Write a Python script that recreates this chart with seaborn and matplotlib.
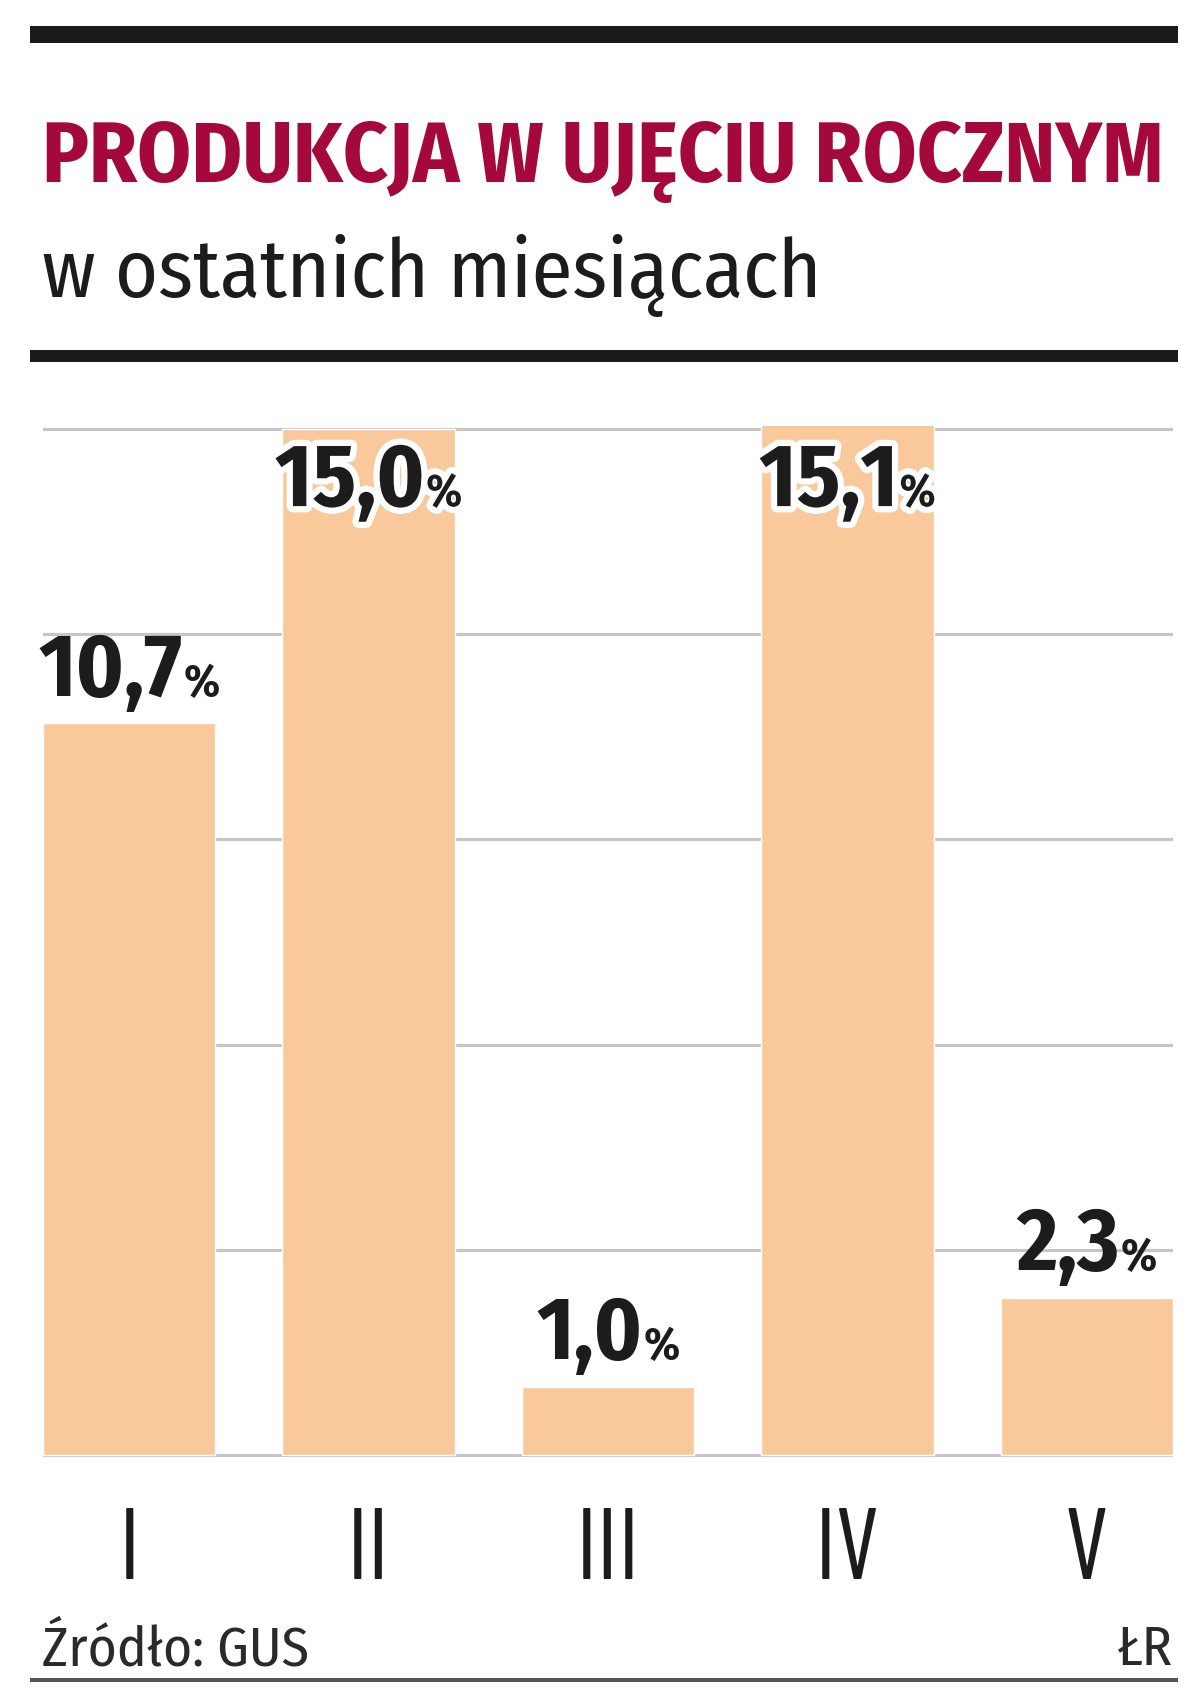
import matplotlib
matplotlib.use("Agg")
import matplotlib.pyplot as plt
import seaborn as sns
import pandas as pd
from matplotlib import font_manager
from matplotlib.offsetbox import TextArea, HPacker, AnnotationBbox
from matplotlib.patches import Rectangle
import matplotlib.patheffects as pe

# ---- data ----
months = ["I", "II", "III", "IV", "V"]
values = [10.7, 15.0, 1.0, 15.1, 2.3]
title = "PRODUKCJA W UJĘCIU ROCZNYM"
subtitle = "w ostatnich miesiącach"
source = "Źródło: GUS"
author = "ŁR"

W, H = 1200, 1703
names = {f.name for f in font_manager.fontManager.ttflist}


def pick(cands, default="Liberation Sans"):
    for c in cands:
        if c in names:
            return c
    return default


COND = pick(["Fira Sans Condensed", "PT Sans Narrow", "Asap Condensed",
             "Encode Sans Condensed", "Barlow Condensed", "Archivo Narrow"])
TICKF = pick(["Barlow Condensed", "Encode Sans Condensed", "Asap Condensed", COND])
FAM = [COND, "DejaVu Sans"]

sns.set_theme(style="white")
plt.rcParams["font.family"] = FAM

BAR = "#F9C99C"
RED = "#A5093B"
INK = "#1c1c1c"

fig = plt.figure(figsize=(W / 100, H / 100), dpi=100)
fig.patch.set_facecolor("white")


def fy(py):
    return 1 - py / H


# axes: y=0 at px 1455, y=15 at px 429
ylo, yhi = -0.03, 15.05
ppu = (1455 - 429) / 15.0
ax_bottom = H - 1455 - (0 - ylo) * ppu
ax_height = (yhi - ylo) * ppu
ax = fig.add_axes([43 / W, ax_bottom / H, 1130 / W, ax_height / H])

df = pd.DataFrame({"month": months, "value": values})
sns.barplot(data=df, x="month", y="value", color=BAR, saturation=1,
            width=0.72, ax=ax, zorder=2, errorbar=None)
ax.set_xlim(-0.36, len(months) - 1 + 0.36)
ax.set_ylim(ylo, yhi)
ax.set_yticks([0, 3, 6, 9, 12, 15])
ax.yaxis.grid(True, color="#c6c6c6", linewidth=2.3, zorder=0)
ax.xaxis.grid(False)
ax.set_axisbelow(True)
for s in ax.spines.values():
    s.set_visible(False)
ax.set_xlabel("")
ax.set_ylabel("")
ax.tick_params(axis="y", left=False, labelleft=False)
ax.tick_params(axis="x", bottom=False, pad=31, labelsize=72, labelcolor=INK)
for lab in ax.get_xticklabels():
    lab.set_fontfamily([TICKF, "DejaVu Sans"])
    lab.set_fontweight(400)

# value labels
for i, v in enumerate(values):
    num = f"{v:.1f}".replace(".", ",")
    inside = v >= 14.5
    effects = [pe.withStroke(linewidth=9, foreground="white")] if inside else []
    t1 = TextArea(num, textprops=dict(fontsize=64, fontweight="bold", color=INK,
                                      family=FAM, path_effects=effects))
    t2 = TextArea("%", textprops=dict(fontsize=33, fontweight="bold", color=INK,
                                      family=FAM, path_effects=effects))
    box = HPacker(children=[t1, t2], align="baseline", pad=0, sep=1)
    if inside:
        ab = AnnotationBbox(box, (i, 15.0), xybox=(0, -7), xycoords="data",
                            boxcoords="offset points", box_alignment=(0.5, 1),
                            frameon=False, zorder=5)
    else:
        ab = AnnotationBbox(box, (i, v), xybox=(0, 5), xycoords="data",
                            boxcoords="offset points", box_alignment=(0.5, 0),
                            frameon=False, zorder=5)
    ax.add_artist(ab)

# rules
fig.add_artist(Rectangle((30 / W, fy(43)), 1148 / W, 17 / H, transform=fig.transFigure,
                         color="#1a1a1a", lw=0))
fig.add_artist(Rectangle((30 / W, fy(362)), 1148 / W, 12 / H, transform=fig.transFigure,
                         color="#1a1a1a", lw=0))
fig.add_artist(Rectangle((30 / W, fy(1682)), 1148 / W, 4 / H, transform=fig.transFigure,
                         color="#555555", lw=0))

# titles
t_title = fig.text(42 / W, fy(182), title, color=RED, fontsize=70, fontweight="bold",
                   family=FAM, va="baseline", ha="left")
t_sub = fig.text(42 / W, fy(297), subtitle, color=INK, fontsize=70, fontweight="normal",
                 family=FAM, va="baseline", ha="left")

# fit widths to the reference layout
fig.canvas.draw()
r = fig.canvas.get_renderer()
for t, target in [(t_title, 1121), (t_sub, 780)]:
    w = t.get_window_extent(r).width
    t.set_fontsize(t.get_fontsize() * target / w)

fig.text(42 / W, fy(1665), source, color="#2a2a2a", fontsize=40, fontweight="normal",
         family=FAM, va="baseline", ha="left")
fig.text(1173 / W, fy(1665), author, color="#2a2a2a", fontsize=40, fontweight="normal",
         family=FAM, va="baseline", ha="right")

fig.savefig("out.png", dpi=100, facecolor="white")
